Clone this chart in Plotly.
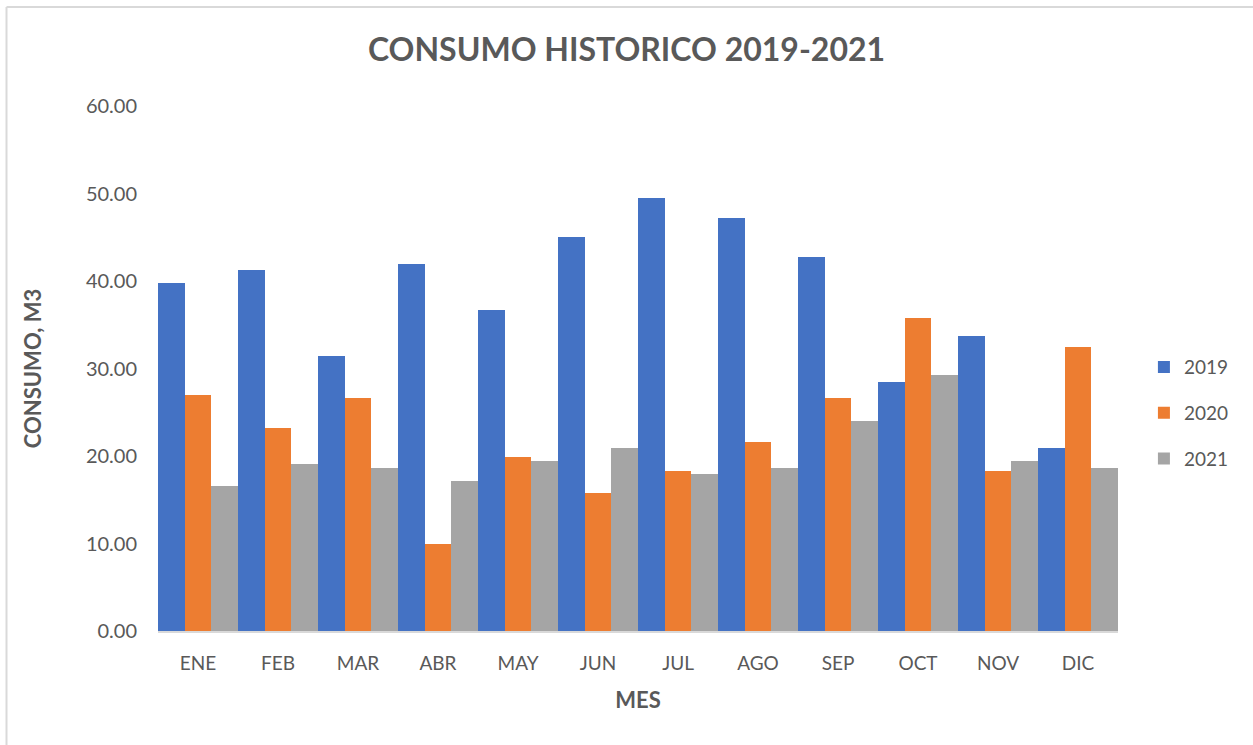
import plotly.graph_objects as go

months = ["ENE", "FEB", "MAR", "ABR", "MAY", "JUN", "JUL", "AGO", "SEP", "OCT", "NOV", "DIC"]
c2019 = [39.73, 41.22, 31.47, 41.94, 36.69, 44.99, 49.49, 47.20, 42.74, 28.42, 33.71, 20.91]
c2020 = [26.93, 23.16, 26.63, 9.90, 19.89, 15.73, 18.29, 21.60, 26.63, 35.77, 18.29, 32.46]
c2021 = [16.57, 19.05, 18.67, 17.18, 19.43, 20.95, 17.90, 18.67, 23.96, 29.22, 19.46, 18.67]

series = [("2019", c2019, "#4472C4"), ("2020", c2020, "#ED7D31"), ("2021", c2021, "#A5A5A5")]

FONT = "Lato"
GREY = "#595959"

fig = go.Figure()
for name, vals, col in series:
    fig.add_trace(go.Bar(x=months, y=vals, name=name, legendgroup=name,
                         marker=dict(color=col, line=dict(width=0))))

fig.update_layout(
    width=1253, height=745,
    margin=dict(l=158, r=135, t=106, b=114),
    paper_bgcolor="white", plot_bgcolor="white",
    barmode="group", bargap=0, bargroupgap=0,
    font=dict(family=FONT, color=GREY, size=18),
    title=dict(text="<b>CONSUMO HISTORICO 2019-2021</b>", x=0.5, xanchor="center",
               y=1 - 50 / 745, yanchor="middle",
               font=dict(family=FONT, size=32, color=GREY)),
    legend=dict(x=1.027, xanchor="left", y=0.415, yanchor="middle",
                font=dict(size=19, color=GREY), tracegroupgap=18, itemwidth=30,
                itemsizing="constant"),
    showlegend=True,
)
fig.update_xaxes(
    showgrid=False, showline=True, linecolor="#d9d9d9", linewidth=1.5,
    ticks="", ticklabelstandoff=14, tickfont=dict(size=19, color=GREY),
    title=dict(text="<b>MES</b>", font=dict(size=22, color=GREY), standoff=20),
)
fig.update_yaxes(
    range=[0, 60], dtick=10, tickformat=".2f", showgrid=False, zeroline=False,
    showline=False, ticks="", ticklabelstandoff=20,
    tickfont=dict(size=20, color=GREY),
    title=dict(text="<b>CONSUMO, M3</b>", font=dict(size=22, color=GREY), standoff=38),
)

# chart frame (top and left edges visible)
fig.add_shape(type="line", xref="paper", yref="paper",
              x0=(6.5 - 158) / 960, x1=(1260 - 158) / 960,
              y0=(631 - 7) / 525, y1=(631 - 7) / 525,
              line=dict(color="#d9d9d9", width=2))
fig.add_shape(type="line", xref="paper", yref="paper",
              x0=(6.5 - 158) / 960, x1=(6.5 - 158) / 960,
              y0=(631 - 7) / 525, y1=(631 - 760) / 525,
              line=dict(color="#d9d9d9", width=2))

fig.write_html("out.html", config={"displayModeBar": False},
               post_script="document.body.style.margin='0';")
